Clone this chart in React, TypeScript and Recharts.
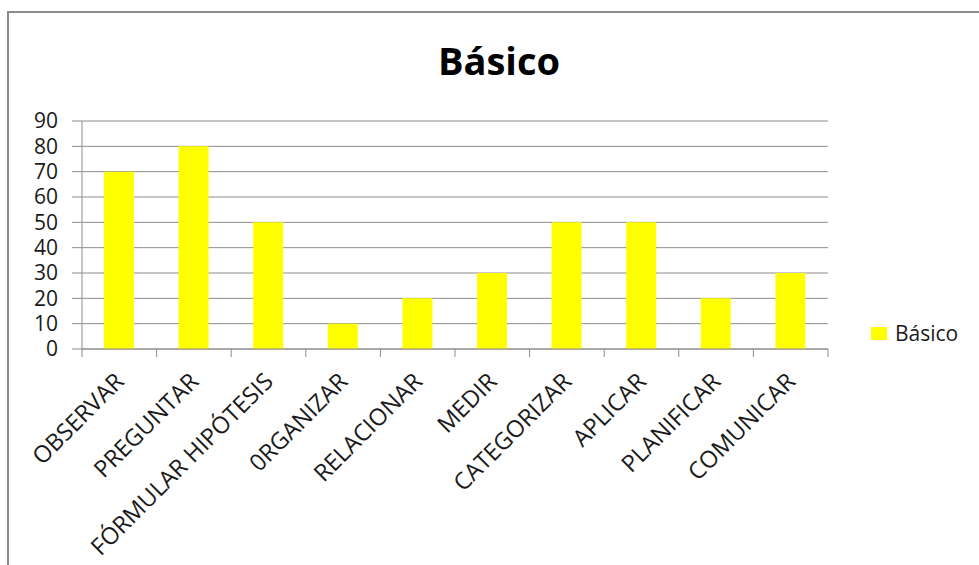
import React from 'react';
import { BarChart, Bar, XAxis, YAxis, CartesianGrid, Legend } from 'recharts';

const categories = [
  'OBSERVAR',
  'PREGUNTAR',
  'FÓRMULAR HIPÓTESIS',
  '0RGANIZAR',
  'RELACIONAR',
  'MEDIR',
  'CATEGORIZAR',
  'APLICAR',
  'PLANIFICAR',
  'COMUNICAR',
];
const basicoValues = [70, 80, 50, 10, 20, 30, 50, 50, 20, 30];
const yTicks = [0, 10, 20, 30, 40, 50, 60, 70, 80, 90];
const seriesName = 'Básico';
const titleText = 'Básico';

const data = categories.map((c, i) => ({ name: c, [seriesName]: basicoValues[i] }));

const W = 979;
const H = 565;
const PLOT_LEFT = 82;
const PLOT_RIGHT = 828;
const PLOT_TOP = 121;
const PLOT_BOTTOM = 349;
const Y_AXIS_W = 70;
const X_AXIS_H = 160;
const X_TICK = 8;
const HALF_BAND = (PLOT_RIGHT - PLOT_LEFT) / categories.length / 2;
const FONT = '"Open Sans", "Noto Sans", sans-serif';
const GRAY = '#8c8c8c';
const YELLOW = '#ffff00';
const TEXT = '#1a1a1a';

const XTick = (props: any) => {
  const { x, y, payload } = props;
  const axisY = y - X_TICK;
  const isLast = payload.value === categories[categories.length - 1];
  const tx = x + 6;
  const ty = axisY + 34;
  return (
    <g>
      <line x1={x - HALF_BAND} x2={x - HALF_BAND} y1={axisY} y2={axisY + X_TICK} stroke={GRAY} strokeWidth={1} />
      {isLast && (
        <line x1={x + HALF_BAND} x2={x + HALF_BAND} y1={axisY} y2={axisY + X_TICK} stroke={GRAY} strokeWidth={1} />
      )}
      <text
        x={tx}
        y={ty}
        transform={`rotate(-45, ${tx}, ${ty})`}
        textAnchor="end"
        fontFamily={FONT}
        fontSize={23.5}
        fill={TEXT}
      >
        {payload.value}
      </text>
    </g>
  );
};

const LegendContent = () => (
  <div style={{ display: 'flex', alignItems: 'center', fontFamily: FONT, fontSize: 21, color: TEXT }}>
    <span style={{ display: 'inline-block', width: 16, height: 13, background: YELLOW, marginRight: 8 }} />
    <span>{seriesName}</span>
  </div>
);

export default function App() {
  return (
    <div style={{ position: 'absolute', left: 0, top: 0, width: W, height: H, background: '#fff', overflow: 'hidden' }}>
      <div
        style={{
          position: 'absolute',
          left: 7,
          top: 11,
          width: 1100,
          height: 700,
          borderLeft: `2px solid ${GRAY}`,
          borderTop: `2px solid ${GRAY}`,
        }}
      />
      <div style={{ position: 'absolute', left: 0, top: 0 }}>
        <BarChart
          width={W}
          height={H}
          data={data}
          margin={{
            top: PLOT_TOP,
            right: W - PLOT_RIGHT,
            bottom: H - PLOT_BOTTOM - X_AXIS_H,
            left: PLOT_LEFT - Y_AXIS_W,
          }}
        >
          <CartesianGrid vertical={false} stroke={GRAY} />
          <XAxis
            dataKey="name"
            interval={0}
            height={X_AXIS_H}
            tickSize={X_TICK}
            tickMargin={0}
            tickLine={false}
            axisLine={{ stroke: GRAY }}
            tick={<XTick />}
          />
          <YAxis
            width={Y_AXIS_W}
            domain={[0, 90]}
            ticks={yTicks}
            interval={0}
            tickSize={10}
            tickMargin={14}
            tickLine={{ stroke: GRAY }}
            axisLine={{ stroke: GRAY }}
            tick={{ fontFamily: FONT, fontSize: 21, fill: TEXT }}
          />
          <Legend
            layout="horizontal"
            align="center"
            verticalAlign="middle"
            wrapperStyle={{ left: 871, top: 319, width: 110 }}
            content={<LegendContent />}
          />
          <Bar dataKey={seriesName} fill={YELLOW} barSize={30} isAnimationActive={false} />
        </BarChart>
      </div>
      <svg width={W} height={H} style={{ position: 'absolute', left: 0, top: 0, pointerEvents: 'none' }}>
        <text x={499} y={75} textAnchor="middle" fontFamily={FONT} fontWeight="bold" fontSize={38} fill="#000">
          {titleText}
        </text>
      </svg>
    </div>
  );
}
